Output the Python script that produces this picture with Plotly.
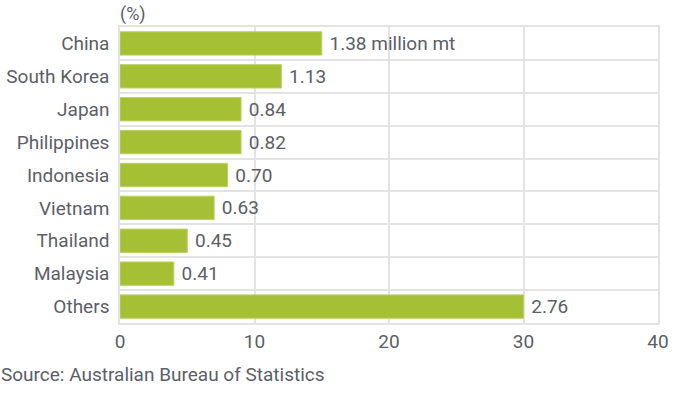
import plotly.graph_objects as go

countries = ["China", "South Korea", "Japan", "Philippines", "Indonesia",
             "Vietnam", "Thailand", "Malaysia", "Others"]
share_pct = [15.0, 12.0, 9.0, 9.0, 8.0, 7.0, 5.0, 4.0, 30.0]
volume_labels = ["1.38 million mt", "1.13", "0.84", "0.82", "0.70",
                 "0.63", "0.45", "0.41", "2.76"]
x_ticks = [0, 10, 20, 30, 40]

TEXT = "#5b6068"
FONT = "Roboto"
FS = 19

fig = go.Figure(go.Bar(
    y=countries,
    x=share_pct,
    orientation="h",
    text=[" " + t for t in volume_labels],
    textposition="outside",
    textfont=dict(family=FONT, size=FS, color=TEXT),
    cliponaxis=False,
    marker=dict(color="#a5c034", line=dict(color="#bcd062", width=1)),
    width=0.71,
))

fig.update_layout(
    width=680, height=395,
    margin=dict(l=120, r=22, t=27, b=72),
    paper_bgcolor="white", plot_bgcolor="white",
    showlegend=False,
    font=dict(family=FONT, size=FS, color=TEXT),
    xaxis=dict(range=[0, 40], tickvals=x_ticks, showgrid=True, automargin=False,
               gridcolor="#e3e3e3", gridwidth=1.5, zeroline=False,
               showline=True, linecolor="#e3e3e3", linewidth=1.5, mirror=True,
               tickfont=dict(family=FONT, size=FS, color=TEXT), ticks=""),
    yaxis=dict(autorange="reversed", type="category", tickson="boundaries",
               showgrid=True, gridcolor="#e3e3e3", gridwidth=1.5, automargin=False,
               showline=True, linecolor="#e3e3e3", linewidth=1.5, mirror=True,
               ticks="", ticklabelstandoff=5,
               tickfont=dict(family=FONT, size=FS, color=TEXT)),
    annotations=[
        dict(text="(%)", x=0, xref="paper", xanchor="left", y=1, yref="paper",
             yanchor="bottom", yshift=0, xshift=-2, showarrow=False,
             font=dict(family=FONT, size=18, color=TEXT)),
        dict(text="Source: Australian Bureau of Statistics", x=0, xref="paper",
             xshift=-121, xanchor="left", y=0, yref="paper", yanchor="top",
             yshift=-38, showarrow=False,
             font=dict(family=FONT, size=FS, color=TEXT)),
    ],
)

fig.write_html("out.html", config={"displayModeBar": False},
               post_script="document.body.style.margin='0';")
